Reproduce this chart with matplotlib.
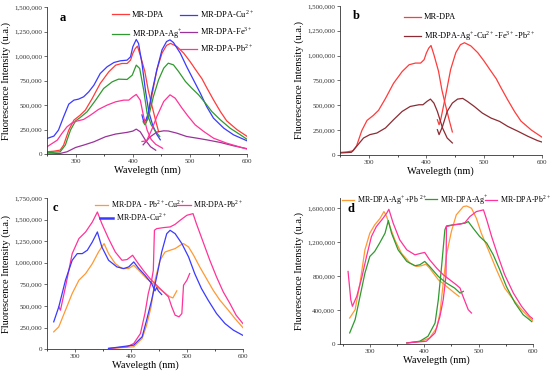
import numpy as np
import matplotlib
matplotlib.use("Agg")
from matplotlib import pyplot as plt
from matplotlib.legend import Legend
from matplotlib.ticker import FuncFormatter, MultipleLocator

# intensities below are in thousands of counts (u.a.)

# ---- panel a (MR-DPA also reused in panel b) ----
dpa_ex_wl = [250, 262, 273, 279, 288, 297, 308, 317, 329, 343, 358, 370, 381, 390, 396, 400, 404, 408, 413, 421, 427, 433, 440, 445]
dpa_ex = [24, 30, 41, 92, 245, 347, 398, 449, 568, 721, 840, 908, 925, 925, 959, 1027, 1075, 1102, 1010, 843, 650, 503, 340, 231]
dpa_em_wl = [419, 422, 425, 433, 442, 451, 459, 466, 477, 489, 500, 512, 521, 529, 541, 553, 564, 582, 600]
dpa_em = [354, 304, 360, 588, 860, 1030, 1110, 1130, 1098, 1030, 945, 843, 768, 680, 554, 435, 340, 250, 180]

a_cu_ex_wl = [250, 262, 270, 279, 288, 297, 305, 314, 323, 332, 343, 355, 367, 378, 390, 396, 400, 406, 410, 416, 422, 428, 435, 442, 448]
a_cu_ex = [160, 184, 245, 381, 510, 551, 561, 585, 636, 704, 823, 891, 935, 952, 959, 993, 1095, 1170, 1129, 925, 653, 430, 290, 200, 146]
a_cu_em_wl = [416, 419, 423, 427, 433, 442, 451, 459, 465, 471, 483, 494, 506, 518, 529, 541, 559, 576, 600]
a_cu_em = [400, 330, 350, 418, 622, 860, 1064, 1149, 1166, 1139, 1030, 894, 758, 622, 486, 367, 265, 197, 135]

a_ag_ex_wl = [250, 273, 282, 291, 300, 308, 320, 335, 349, 364, 375, 390, 399, 406, 412, 419, 425, 432, 440, 447]
a_ag_ex = [13, 24, 92, 245, 340, 374, 432, 551, 670, 738, 765, 762, 806, 908, 874, 653, 415, 300, 230, 180]
a_ag_em_wl = [418, 421, 427, 436, 445, 454, 462, 471, 480, 492, 503, 515, 527, 538, 553, 570, 588, 600]
a_ag_em = [330, 300, 367, 588, 758, 877, 928, 911, 843, 741, 673, 605, 520, 435, 350, 265, 197, 150]

a_fe_ex_wl = [250, 273, 285, 300, 314, 332, 352, 370, 390, 400, 406, 413, 422, 431, 440]
a_fe_ex = [0, 7, 24, 68, 92, 126, 177, 205, 222, 235, 255, 228, 143, 75, 40]
a_fe_em_wl = [418, 430, 442, 454, 462, 477, 494, 512, 529, 553, 576, 600]
a_fe_em = [95, 175, 225, 238, 236, 214, 180, 163, 146, 119, 85, 55]

a_pb_ex_wl = [250, 259, 268, 276, 285, 294, 302, 314, 326, 340, 355, 370, 384, 393, 400, 406, 413, 419, 425, 432, 440, 452]
a_pb_ex = [75, 109, 143, 211, 279, 320, 337, 354, 398, 456, 500, 534, 551, 551, 585, 609, 551, 381, 245, 150, 100, 60]
a_pb_em_wl = [416, 424, 433, 442, 454, 465, 474, 486, 497, 509, 524, 541, 564, 588, 600]
a_pb_em = [129, 135, 248, 384, 537, 605, 571, 469, 384, 299, 231, 163, 112, 71, 51]

# ---- panel b ----
b_mix_ex_wl = [250, 270, 279, 291, 302, 314, 329, 343, 358, 372, 387, 394, 401, 407, 413, 419, 428, 436, 445]
b_mix_ex = [19, 26, 86, 170, 204, 220, 271, 354, 438, 488, 505, 505, 539, 562, 522, 438, 270, 170, 120]
b_mix_em_wl = [419, 422, 428, 436, 445, 454, 463, 471, 483, 497, 512, 527, 541, 559, 576, 593, 600]
b_mix_em = [254, 204, 287, 438, 522, 562, 569, 539, 488, 421, 371, 337, 287, 237, 187, 143, 130]

# ---- panel c ----
c_mix_ex_wl = [262, 271, 283, 295, 307, 319, 331, 342, 352, 360, 372, 384, 396, 405, 414, 428, 443, 458, 470, 475, 482]
c_mix_ex = [200, 258, 451, 644, 798, 875, 990, 1125, 1222, 1106, 990, 933, 933, 971, 913, 817, 740, 663, 605, 593, 675]
c_mix_em_wl = [360, 405, 420, 428, 436, 443, 452, 461, 470, 479, 488, 494, 503, 512, 523, 535, 547, 559, 574, 586, 600]
c_mix_em = [8, 27, 123, 277, 489, 798, 1029, 1125, 1145, 1164, 1203, 1222, 1183, 1087, 952, 817, 682, 567, 451, 354, 250]

c_pb_ex_wl = [271, 274, 283, 295, 307, 319, 331, 340, 348, 360, 372, 384, 393, 403, 411, 422, 434, 446, 458,
              467, 473, 479, 486, 491, 494, 500, 505]
c_pb_ex = [489, 451, 721, 1106, 1280, 1357, 1472, 1588, 1453, 1280, 1125, 1029, 1037, 1087, 1010, 913, 817, 740, 663,
           605, 489, 393, 374, 412, 740, 798, 875]
c_pb_em_wl = [360, 393, 405, 417, 425, 431, 437, 440, 442, 446, 458, 470, 479, 488, 500, 511, 517, 529, 541, 553,
              565, 577, 588, 600]
c_pb_em = [8, 27, 65, 181, 412, 644, 798, 913, 1376, 1395, 1407, 1415, 1445, 1492, 1550, 1569, 1453, 1241, 1029, 836,
           663, 528, 393, 297]

c_cu_ex_wl = [262, 271, 283, 295, 304, 313, 322, 331, 340, 348, 360, 375, 387, 396, 405, 414, 425, 437, 441, 443, 446, 449, 455]
c_cu_ex = [316, 489, 798, 1029, 1106, 1106, 1145, 1241, 1357, 1183, 1029, 952, 933, 952, 1010, 933, 856, 760, 702, 675, 713, 675, 632]
c_cu_em_wl = [360, 405, 420, 428, 437, 446, 455, 464, 470, 479, 491, 503, 514, 526, 538, 553, 568, 583, 600]
c_cu_em = [8, 46, 143, 335, 567, 836, 1125, 1337, 1376, 1337, 1222, 1068, 875, 702, 567, 412, 297, 220, 160]

# ---- panel d ----
d_mix_ex_wl = [263, 273, 282, 291, 300, 309, 319, 326, 331, 337, 346, 358, 374, 386, 395, 403, 410, 426, 441, 456, 464]
d_mix_ex = [305, 403, 717, 1109, 1305, 1403, 1481, 1560, 1501, 1383, 1227, 1070, 952, 913, 921, 940, 893, 756, 678, 599, 560]
d_mix_em_wl = [368, 395, 410, 423, 429, 435, 441, 450, 459, 472, 478, 487, 496, 505, 518, 533, 548, 564, 579, 594, 600]
d_mix_em = [11, 31, 70, 188, 364, 717, 1050, 1325, 1521, 1619, 1626, 1599, 1481, 1305, 1109, 874, 658, 521, 403, 305, 275]

d_ag_ex_wl = [263, 273, 282, 291, 300, 309, 318, 328, 334, 340, 352, 368, 383, 392, 401, 410, 426, 441, 456, 466, 472]
d_ag_ex = [129, 286, 560, 834, 1031, 1090, 1188, 1305, 1454, 1305, 1109, 972, 921, 933, 972, 913, 795, 717, 658, 599, 619]
d_ag_em_wl = [368, 392, 407, 420, 426, 432, 438, 441, 453, 466, 475, 481, 490, 502, 515, 527, 539, 551, 567, 582, 598]
d_ag_em = [11, 31, 90, 246, 521, 913, 1344, 1391, 1403, 1415, 1423, 1442, 1364, 1266, 1188, 1050, 874, 678, 482, 344, 262]

d_pb_ex_wl = [260, 265, 268, 276, 285, 294, 303, 312, 322, 331, 335, 343, 355, 368, 383, 395, 401, 410, 423, 435, 447,
              459, 466, 469, 475, 481, 487]
d_pb_ex = [854, 521, 443, 560, 776, 1031, 1266, 1383, 1462, 1540, 1587, 1423, 1227, 1109, 1050, 1070, 1078, 991, 893,
           815, 756, 697, 658, 599, 501, 403, 364]
d_pb_em_wl = [368, 404, 420, 429, 435, 440, 441, 453, 466, 475, 484, 496, 509, 515, 524, 536, 548, 564, 579, 594, 600]
d_pb_em = [11, 31, 129, 325, 521, 795, 1383, 1403, 1411, 1430, 1501, 1560, 1580, 1462, 1266, 1031, 815, 599, 443, 325, 295]

RED = '#ff3b3b'
BLUE = '#3a3aff'
GREEN = '#2f9a2f'
PURPLE = '#993399'
PINK = '#ff3399'
MAROON = '#8c2b33'
ORANGE = '#ff9933'

plt.rcParams['font.family'] = ['Liberation Serif', 'DejaVu Serif']
plt.rcParams['mathtext.fontset'] = 'custom'
plt.rcParams['mathtext.rm'] = 'Liberation Serif'

fig = plt.figure(figsize=(5.5, 3.75), dpi=100)
ax_a = fig.add_axes([0.0855, 0.589, 0.364, 0.392])
ax_b = fig.add_axes([0.618, 0.587, 0.367, 0.397])
ax_c = fig.add_axes([0.0855, 0.069, 0.356, 0.403])
ax_d = fig.add_axes([0.618, 0.083, 0.351, 0.389])

fmt = FuncFormatter(lambda v, p: '{:,.0f}'.format(v))


def style(ax, ylim, ystep, xlim=(250, 600)):
    ax.set_xlim(*xlim)
    ax.set_ylim(*ylim)
    ax.yaxis.set_major_locator(MultipleLocator(ystep))
    ax.yaxis.set_major_formatter(fmt)
    ax.xaxis.set_major_locator(MultipleLocator(100))
    ax.xaxis.set_minor_locator(MultipleLocator(50))
    for s in ['top', 'right']:
        ax.spines[s].set_visible(False)
    for s in ['left', 'bottom']:
        ax.spines[s].set_linewidth(0.6)
        ax.spines[s].set_color('#333333')
    ax.tick_params(labelsize=5, length=2, width=0.5, pad=1.5, colors='#333333')
    ax.tick_params(which='minor', length=1.2, width=0.5)
    ax.set_xlabel('Wavelegth (nm)', fontsize=7.5, labelpad=1)
    ax.set_ylabel('Fluorescence Intensity (u.a.)', fontsize=7.5, labelpad=2)


def curve(ax, wl, val, color, lw=0.9):
    return ax.plot(wl, np.array(val) * 1000, color=color, lw=lw, solid_joinstyle='round')[0]


def leg(ax, handles, labels, x, y, spacing=0.8, hl=2.0, fs=6):
    # separate Legend artists so several can sit in one axes (each drawn once)
    l = Legend(ax, handles, labels, loc='upper left', bbox_to_anchor=(x, y), frameon=False,
               fontsize=fs, handlelength=hl, handletextpad=0.35, labelspacing=spacing,
               borderpad=0, borderaxespad=0)
    ax.add_artist(l)
    return l


# panel a
h_dpa = curve(ax_a, dpa_ex_wl, dpa_ex, RED)
curve(ax_a, dpa_em_wl, dpa_em, RED)
h_cu = curve(ax_a, a_cu_ex_wl, a_cu_ex, BLUE)
curve(ax_a, a_cu_em_wl, a_cu_em, BLUE)
h_ag = curve(ax_a, a_ag_ex_wl, a_ag_ex, GREEN)
curve(ax_a, a_ag_em_wl, a_ag_em, GREEN)
h_fe = curve(ax_a, a_fe_ex_wl, a_fe_ex, PURPLE)
curve(ax_a, a_fe_em_wl, a_fe_em, PURPLE)
h_pb = curve(ax_a, a_pb_ex_wl, a_pb_ex, PINK)
curve(ax_a, a_pb_em_wl, a_pb_em, PINK)
style(ax_a, (0, 1500000), 250000)
leg(ax_a, [h_dpa, h_ag], ['MR-DPA', 'MR-DPA-Ag$^{+}$'], 0.325, 0.975, 1.0)
leg(ax_a, [h_cu, h_fe, h_pb], ['MR-DPA-Cu$^{2+}$', 'MR-DPA-Fe$^{3+}$', 'MR-DPA-Pb$^{2+}$'], 0.665, 0.99, 0.6)
ax_a.text(0.065, 0.925, 'a', transform=ax_a.transAxes, fontsize=9, fontweight='bold', va='center')

# panel b
h1 = curve(ax_b, dpa_ex_wl, dpa_ex, RED)
curve(ax_b, dpa_em_wl, dpa_em, RED)
h2 = curve(ax_b, b_mix_ex_wl, b_mix_ex, MAROON)
curve(ax_b, b_mix_em_wl, b_mix_em, MAROON)
style(ax_b, (0, 1500000), 250000)
leg(ax_b, [h1, h2], ['MR-DPA', 'MR-DPA-Ag$^{+}$-Cu$^{2+}$-Fe$^{3+}$-Pb$^{2+}$'], 0.32, 0.95, 0.9)
ax_b.text(0.064, 0.933, 'b', transform=ax_b.transAxes, fontsize=9, fontweight='bold', va='center')

# panel c
h1 = curve(ax_c, c_mix_ex_wl, c_mix_ex, ORANGE)
curve(ax_c, c_mix_em_wl, c_mix_em, ORANGE)
h2 = curve(ax_c, c_pb_ex_wl, c_pb_ex, PINK)
curve(ax_c, c_pb_em_wl, c_pb_em, PINK)
h3 = curve(ax_c, c_cu_ex_wl, c_cu_ex, BLUE)
curve(ax_c, c_cu_em_wl, c_cu_em, BLUE)
style(ax_c, (0, 1750000), 250000)
leg(ax_c, [h1], ['MR-DPA - Pb$^{2+}$-Cu$^{2+}$'], 0.245, 1.0, hl=1.7, fs=5.7)
leg(ax_c, [h2], ['MR-DPA-Pb$^{2+}$'], 0.665, 1.0, hl=1.7, fs=5.7)
hb = plt.Line2D([], [], color=BLUE, lw=1.8)
leg(ax_c, [hb], ['MR-DPA-Cu$^{2+}$'], 0.27, 0.915, hl=1.7, fs=5.7)
ax_c.text(0.03, 0.934, 'c', transform=ax_c.transAxes, fontsize=9, fontweight='bold', va='center')

# panel d
h1 = curve(ax_d, d_mix_ex_wl, d_mix_ex, ORANGE)
curve(ax_d, d_mix_em_wl, d_mix_em, ORANGE)
h2 = curve(ax_d, d_ag_ex_wl, d_ag_ex, GREEN)
curve(ax_d, d_ag_em_wl, d_ag_em, GREEN)
h3 = curve(ax_d, d_pb_ex_wl, d_pb_ex, PINK)
curve(ax_d, d_pb_em_wl, d_pb_em, PINK)
style(ax_d, (0, 1720000), 400000, xlim=(245, 600))
leg(ax_d, [h1], ['MR-DPA-Ag$^{+}$+Pb $^{2+}$'], 0.01, 1.035, hl=1.5, fs=5.8)
leg(ax_d, [h2], ['MR-DPA-Ag$^{+}$'], 0.44, 1.035, hl=1.5, fs=5.8)
leg(ax_d, [h3], ['MR-DPA-Pb$^{2+}$'], 0.75, 1.035, hl=1.5, fs=5.8)
ax_d.text(0.04, 0.925, 'd', transform=ax_d.transAxes, fontsize=9, fontweight='bold', va='center')

fig.savefig('out.png', dpi=100)
